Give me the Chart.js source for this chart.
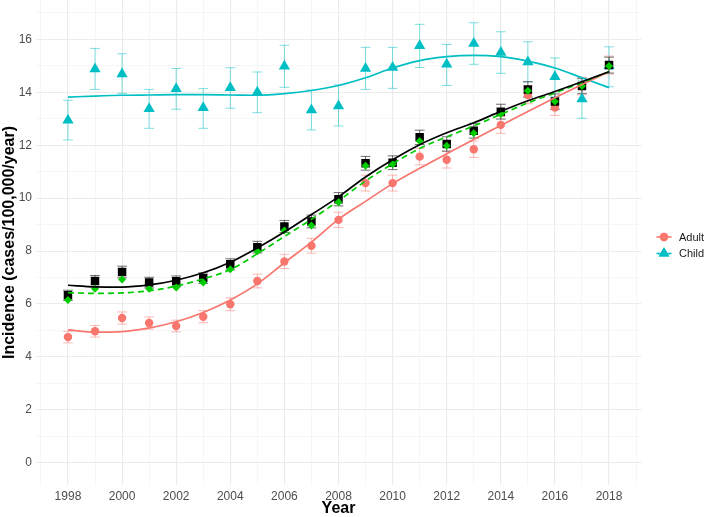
<!DOCTYPE html>
<html><head><meta charset="utf-8">
<script src="https://cdn.jsdelivr.net/npm/chart.js@4.4.1/dist/chart.umd.min.js"></script>
<style>html,body{margin:0;padding:0;background:#fff;}canvas{display:block;}</style>
</head><body>
<canvas id="c" width="708" height="517"></canvas>
<script>
const years = [1998,1999,2000,2001,2002,2003,2004,2005,2006,2007,2008,2009,2010,2011,2012,2013,2014,2015,2016,2017,2018];
const xTickLabels = ['1998','2000','2002','2004','2006','2008','2010','2012','2014','2016','2018'];
const yTickLabels = ['0','2','4','6','8','10','12','14','16'];
const seriesNames = ['Adult','Child'];

const adult   = [4.75,4.97,5.47,5.28,5.17,5.52,5.99,6.87,7.61,8.20,9.18,10.57,10.57,11.57,11.45,11.85,12.77,13.90,13.43,14.24,15.03];
const adultSE = [0.22,0.22,0.23,0.23,0.22,0.23,0.24,0.26,0.27,0.28,0.29,0.30,0.30,0.31,0.31,0.31,0.32,0.33,0.30,0.33,0.34];
const adultSmooth = [5.02,4.94,4.96,5.10,5.33,5.68,6.15,6.76,7.56,8.34,9.20,9.88,10.55,11.13,11.68,12.22,12.75,13.28,13.80,14.30,14.78];

const child   = [12.95,14.88,14.69,13.38,14.14,13.42,14.17,14.00,14.99,13.33,13.48,14.90,14.94,15.76,15.06,15.85,15.51,15.15,14.59,13.75,15.00];
const childLo = [12.20,14.11,13.96,12.64,13.36,12.64,13.40,13.23,14.19,12.58,12.73,14.11,14.15,14.94,14.26,15.06,14.72,14.40,13.83,13.02,14.21];
const childHi = [13.70,15.66,15.46,14.11,14.90,14.14,14.93,14.77,15.78,14.09,14.28,15.70,15.70,16.57,15.81,16.63,16.29,15.91,15.30,14.46,15.72];
const childSmooth = [13.82,13.86,13.89,13.90,13.91,13.91,13.90,13.89,13.95,14.07,14.26,14.55,14.92,15.20,15.35,15.40,15.35,15.18,14.92,14.55,14.18];

const total   = [6.33,6.87,7.21,6.81,6.86,6.98,7.50,8.15,8.93,9.12,9.96,11.32,11.34,12.30,12.05,12.55,13.27,14.11,13.65,14.24,15.03];
const totalSE = [0.19,0.21,0.22,0.20,0.20,0.20,0.21,0.22,0.23,0.24,0.25,0.26,0.26,0.27,0.27,0.28,0.28,0.29,0.29,0.29,0.30];
const totalSmooth = [6.71,6.65,6.64,6.72,6.90,7.18,7.58,8.12,8.72,9.38,10.05,10.80,11.45,12.02,12.47,12.85,13.28,13.68,14.03,14.40,14.78];

const adjusted = [6.15,6.58,6.93,6.58,6.62,6.81,7.31,7.99,8.78,8.97,9.85,11.23,11.28,12.16,11.98,12.45,13.18,14.06,13.65,14.24,15.00];
const adjustedSmooth = [6.43,6.40,6.42,6.50,6.68,6.95,7.30,7.90,8.55,9.20,9.90,10.65,11.30,11.88,12.32,12.73,13.17,13.60,13.98,14.37,14.78];

const RED = '#F8766D', TEAL = '#00BFC4', GREEN = '#00CD00';
const pts = arr => years.map((yr, i) => ({x: yr, y: arr[i]}));

const errorBars = {
  id: 'errorBars',
  beforeDatasetsDraw(chart) {
    const {ctx, scales: {x, y}} = chart;
    const draw = (lo, hi, color) => {
      ctx.save();
      ctx.strokeStyle = color; ctx.lineWidth = 1;
      years.forEach((yr, i) => {
        const px = x.getPixelForValue(yr);
        const cw = x.getPixelForValue(yr + 0.18) - px;
        const pl = y.getPixelForValue(lo[i]), ph = y.getPixelForValue(hi[i]);
        ctx.beginPath();
        ctx.moveTo(px, pl); ctx.lineTo(px, ph);
        ctx.moveTo(px - cw, pl); ctx.lineTo(px + cw, pl);
        ctx.moveTo(px - cw, ph); ctx.lineTo(px + cw, ph);
        ctx.stroke();
      });
      ctx.restore();
    };
    draw(childLo, childHi, 'rgba(0,191,196,0.5)');
    draw(adult.map((v, i) => v - adultSE[i]), adult.map((v, i) => v + adultSE[i]), 'rgba(248,118,109,0.5)');
    draw(total.map((v, i) => v - totalSE[i]), total.map((v, i) => v + totalSE[i]), 'rgba(60,60,60,0.75)');
  }
};

const legendPlugin = {
  id: 'customLegend',
  afterDraw(chart) {
    const ctx = chart.ctx;
    const entries = [
      {name: seriesNames[0], color: RED, style: 'circle', r: 4.2, y: 237},
      {name: seriesNames[1], color: TEAL, style: 'triangle', r: 6.2, y: 253.5}
    ];
    ctx.save();
    entries.forEach(e => {
      ctx.strokeStyle = e.color; ctx.lineWidth = 1.6;
      ctx.beginPath(); ctx.moveTo(656.5, e.y); ctx.lineTo(671.5, e.y); ctx.stroke();
      ctx.fillStyle = e.color;
      Chart.helpers.drawPoint(ctx, {pointStyle: e.style, radius: e.r, rotation: 0, borderWidth: 0}, 664, e.y);
      ctx.fill();
      ctx.fillStyle = '#1a1a1a';
      ctx.font = '11px "Liberation Sans", Arial, sans-serif';
      ctx.textBaseline = 'middle'; ctx.textAlign = 'left';
      ctx.fillText(e.name, 679, e.y + 0.5);
    });
    ctx.restore();
  }
};

const lineDs = (label, arr, color, dash) => ({
  type: 'line', label, data: pts(arr), borderColor: color, borderWidth: 1.7,
  borderDash: dash || [], pointRadius: 0, fill: false, cubicInterpolationMode: 'monotone'
});
const pointDs = (label, arr, color, style, r) => ({
  type: 'scatter', label, data: pts(arr), showLine: false, pointStyle: style,
  pointRadius: r, pointBackgroundColor: color, pointBorderColor: color, pointBorderWidth: 0, pointHoverRadius: r
});

const tickLabelFor = (v, labels) => {
  const s = String(Math.round(v * 100) / 100);
  return labels.includes(s) ? s : '';
};

new Chart(document.getElementById('c'), {
  data: {
    datasets: [
      lineDs('Total smooth', totalSmooth, '#000000'),
      lineDs('Adjusted smooth', adjustedSmooth, GREEN, [6, 4]),
      lineDs('Adult smooth', adultSmooth, RED),
      lineDs('Child smooth', childSmooth, TEAL),
      pointDs('Adjusted', adjusted, GREEN, 'rectRot', 4),
      pointDs('Total', total, '#000000', 'rect', 6),
      pointDs(seriesNames[0], adult, RED, 'circle', 4.2),
      pointDs(seriesNames[1], child, TEAL, 'triangle', 6.5)
    ]
  },
  options: {
    responsive: false, animation: false, devicePixelRatio: 1,
    layout: {autoPadding: false, padding: {left: 0, top: 0, right: 66.5, bottom: 0}},
    plugins: {legend: {display: false}, tooltip: {enabled: false}},
    scales: {
      x: {
        type: 'linear', min: 1996.8, max: 2019.2,
        afterBuildTicks: s => { s.ticks = []; for (let v = 1997; v <= 2019; v++) s.ticks.push({value: v}); },
        afterFit: s => { s.height = 32; s.paddingLeft = 0; s.paddingRight = 0; s.paddingTop = 0; s.paddingBottom = 0; },
        border: {display: false},
        grid: {drawTicks: false, color: c => (c.tick && c.tick.value % 2 === 0) ? '#EBEBEB' : '#F4F4F4', lineWidth: c => (c.tick && c.tick.value % 2 === 0) ? 1.1 : 0.8},
        ticks: {autoSkip: false, maxRotation: 0, padding: 4, color: '#4D4D4D',
          font: {family: '"Liberation Sans", Arial, sans-serif', size: 12},
          callback: v => tickLabelFor(v, xTickLabels)},
        title: {display: true, text: 'Year', color: '#000', padding: {top: 0, bottom: 0},
          font: {family: '"Liberation Sans", Arial, sans-serif', size: 16, weight: 'bold', lineHeight: 1}}
      },
      y: {
        type: 'linear', min: -0.84, max: 17.49,
        afterBuildTicks: s => { s.ticks = []; for (let v = 0; v <= 17; v++) s.ticks.push({value: v}); },
        afterFit: s => { s.width = 35.5; s.paddingLeft = 0; s.paddingRight = 0; s.paddingTop = 0; s.paddingBottom = 0; },
        border: {display: false},
        grid: {drawTicks: false, color: c => (c.tick && c.tick.value % 2 === 0) ? '#EBEBEB' : '#F4F4F4', lineWidth: c => (c.tick && c.tick.value % 2 === 0) ? 1.1 : 0.8},
        ticks: {autoSkip: false, padding: 3.5, color: '#4D4D4D',
          font: {family: '"Liberation Sans", Arial, sans-serif', size: 12},
          callback: v => tickLabelFor(v, yTickLabels)},
        title: {display: true, text: 'Incidence (cases/100,000/year)', color: '#000', padding: {top: 0, bottom: 0},
          font: {family: '"Liberation Sans", Arial, sans-serif', size: 16, weight: 'bold', lineHeight: 1.2}}
      }
    }
  },
  plugins: [errorBars, legendPlugin]
});
</script>
</body></html>
